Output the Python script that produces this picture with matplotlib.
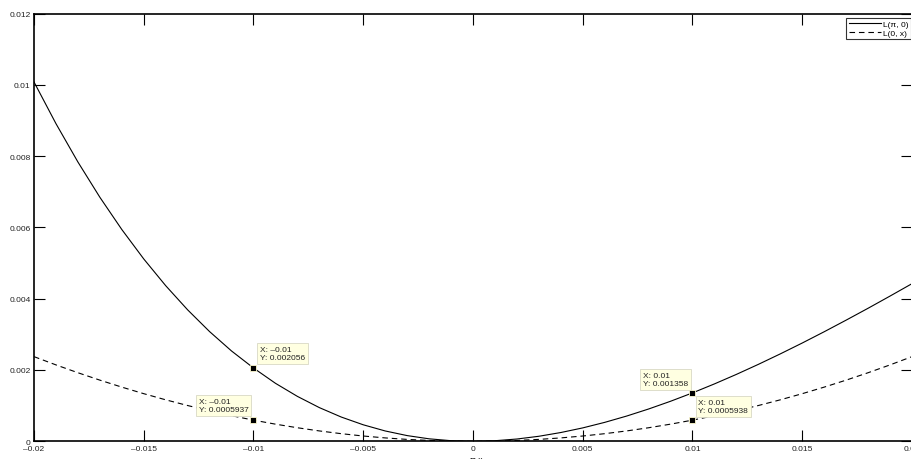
import matplotlib
matplotlib.use("Agg")
import matplotlib.pyplot as plt

plt.rcParams['font.family'] = ['Liberation Sans', 'DejaVu Sans']

# x values (step 0.001)
x_vals = [i / 1000 for i in range(-20, 21)]

# L(pi, 0) -- solid curve
l_pi0 = [0.010080, 0.008911, 0.007835, 0.006846, 0.005941, 0.005115, 0.004365,
         0.003687, 0.003077, 0.002533, 0.002056, 0.001627, 0.001260, 0.000945,
         0.000680, 0.000463, 0.000290, 0.000160, 0.0000696, 0.0000170, 0.0,
         0.0000163, 0.0000641, 0.000141, 0.000246, 0.000376, 0.000531, 0.000708,
         0.000906, 0.001123, 0.001358, 0.001610, 0.001877, 0.002158, 0.002452,
         0.002757, 0.003073, 0.003399, 0.003732, 0.004074, 0.004422]

# L(0, x) -- dashed curve
l_0x = [0.0023748, 0.0021433, 0.0019236, 0.0017158, 0.0015199, 0.0013358, 0.0011637,
        0.0010034, 0.0008549, 0.0007184, 0.0005937, 0.0004809, 0.0003800, 0.0002909,
        0.0002137, 0.0001484, 0.0000950, 0.0000534, 0.0000237, 0.0000059, 0.0,
        0.0000059, 0.0000237, 0.0000534, 0.0000950, 0.0001484, 0.0002137, 0.0002909,
        0.0003800, 0.0004809, 0.0005938, 0.0007184, 0.0008549, 0.0010034, 0.0011637,
        0.0013358, 0.0015199, 0.0017158, 0.0019236, 0.0021433, 0.0023748]

series_labels = ['L(\u03c0, 0)', 'L(0, x)']

xticks = [-0.02, -0.015, -0.01, -0.005, 0, 0.005, 0.01, 0.015, 0.02]
xtick_labels = ['\u20130.02', '\u20130.015', '\u20130.01', '\u20130.005', '0',
                '0.005', '0.01', '0.015', '0.02']
yticks = [0, 0.002, 0.004, 0.006, 0.008, 0.01, 0.012]
ytick_labels = ['0', '0.002', '0.004', '0.006', '0.008', '0.01', '0.012']

# data tips: x, y, text, offset in pixels, alignment
tip_x = [-0.01, -0.01, 0.01, 0.01]
tip_y = [0.002056, 0.0005937, 0.001358, 0.0005938]
tip_text = ['X: \u20130.01\nY: 0.002056', 'X: \u20130.01\nY: 0.0005937',
            'X: 0.01\nY: 0.001358', 'X: 0.01\nY: 0.0005938']
tip_offset = [(6, 7), (-5, 7), (-4, 6), (6, 6)]
tip_ha = ['left', 'right', 'right', 'left']

fs = 6

fig = plt.figure(figsize=(9.12, 4.6), dpi=100)
ax = fig.add_axes([34 / 912, 17.7 / 460, 878 / 912, 427.8 / 460])

ax.plot(x_vals, l_pi0, color='black', lw=0.8, label=series_labels[0])
ax.plot(x_vals, l_0x, color='black', lw=0.8, ls=(0, (5, 3.5)), label=series_labels[1])

ax.set_xlim(-0.02, 0.02)
ax.set_ylim(0, 0.012)
ax.set_xticks(xticks)
ax.set_xticklabels(xtick_labels)
ax.set_yticks(yticks)
ax.set_yticklabels(ytick_labels)
ax.tick_params(direction='in', length=8, width=0.8, labelsize=fs,
               top=True, right=True, pad=2.5, colors='black', labelcolor='#222222')
ax.tick_params(axis='x', pad=3)
for s in ax.spines.values():
    s.set_linewidth(1.2)

for i in range(len(tip_x)):
    ax.plot(tip_x[i], tip_y[i], 's', ms=4.5, mfc='black', mec='#fffbd0', mew=0.6,
            zorder=5)
    ax.annotate(tip_text[i], (tip_x[i], tip_y[i]), xytext=tip_offset[i],
                textcoords='offset pixels', ha=tip_ha[i], va='bottom',
                multialignment='left', fontsize=fs, linespacing=1.2,
                color='#222222',
                bbox=dict(boxstyle='square,pad=0.35', fc='#ffffe1', ec='#d8d8c4', lw=0.6),
                zorder=6)

leg = ax.legend(loc='upper right', bbox_to_anchor=(0.9989, 0.9895), borderaxespad=0,
                prop={'size': fs}, frameon=True, fancybox=False, edgecolor='black',
                handlelength=3.8, handletextpad=0.3, labelspacing=0.1,
                borderpad=0.3)
leg.get_frame().set_linewidth(0.8)

fig.text(476 / 912, 3 / 460, '\u03c0 x', fontsize=fs, ha='center', va='top')

fig.savefig('out.png', dpi=100)
